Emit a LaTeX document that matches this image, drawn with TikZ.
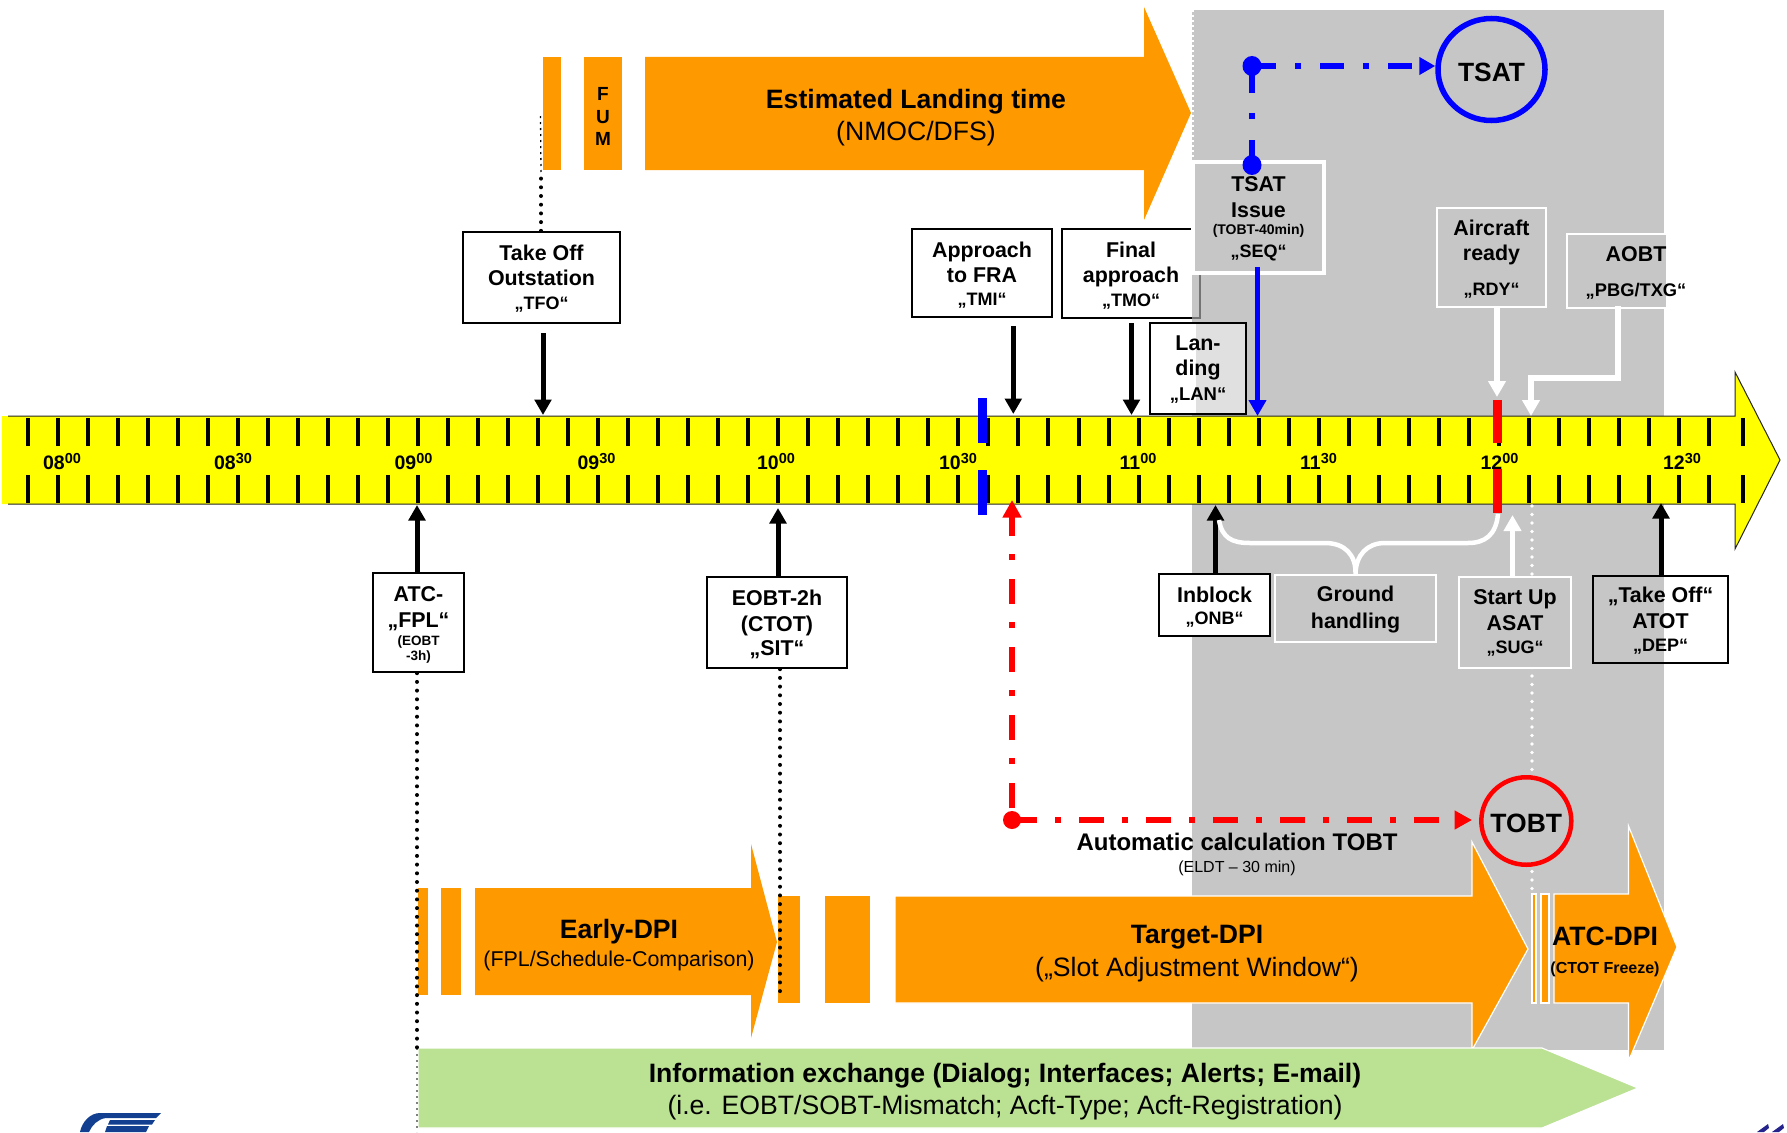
\documentclass[tikz,border=0pt]{standalone}
\usepackage{fontspec}
\setmainfont{Liberation Sans}
\usetikzlibrary{arrows.meta,shapes.geometric}
\definecolor{grayzone}{HTML}{C6C6C6}
\definecolor{orangeA}{HTML}{FF9900}
\definecolor{greenA}{HTML}{BBE193}
\definecolor{blueA}{HTML}{0000FF}
\definecolor{redA}{HTML}{FF0000}
\definecolor{barY}{HTML}{FFFF00}
\definecolor{logoB}{HTML}{123F8F}
\definecolor{logoC}{HTML}{24248C}
\newcommand\fsz[2]{\fontsize{#1}{#2}\selectfont}
\newcommand\bb{\fsz{21.4}{25}\bfseries}
\newcommand\qq{\fsz{18}{25}\bfseries}
\newcommand\dn[1]{\rule{0pt}{\dimexpr 15.3pt+2\dimexpr #1pt\relax\relax}}
\tikzset{
 x=1pt,y=-1pt,
 boxblack/.style={draw=black,line width=2.4pt,fill=white,align=center,inner sep=0pt,font=\bb},
 boxwhite/.style={draw=white,line width=2.4pt,fill=grayzone,align=center,inner sep=0pt,font=\bb},
 boxopen/.style={draw=black,line width=2.4pt,align=center,inner sep=0pt,font=\bb},
 orangebit/.style={fill=orangeA},
 orangeout/.style={fill=orangeA,draw=white,line width=1.2pt},
 tickmark/.style={line width=4pt,black},
 arrblack/.style={line width=5pt,black,-{Triangle[length=15.5pt,width=16.5pt]}},
 arrwhite/.style={line width=5.5pt,white,-{Triangle[length=16pt,width=17pt]}},
 arrblue/.style={line width=5.5pt,blueA,-{Triangle[length=16pt,width=17pt]}},
 dashedblue/.style={line width=6pt,blueA,-{Triangle[length=16pt,width=17pt]}},
 dashedred/.style={line width=6pt,redA,-{Triangle[length=17.5pt,width=18pt]}},
 dotline/.style={line width=4pt,black,line cap=round,dash pattern=on 0pt off 8.7pt},
 dotwhite/.style={line width=3.6pt,white,line cap=round,dash pattern=on 0pt off 8.5pt},
 timelabel/.style={font=\fsz{19.5}{22}\bfseries,inner sep=0pt,anchor=base},
 lab/.style={align=center,inner sep=0pt},
}
\newcommand\tl[2]{#1\raisebox{6pt}{\fsz{14.5}{14}\bfseries #2}}
\begin{document}
\begin{tikzpicture}
\useasboundingbox (0,0) rectangle (1787,1132);
% grey zone
\fill[grayzone] (1192,10) rectangle (1664,1050);
\draw[white,line width=2pt,dash pattern=on 2pt off 3pt] (1193,10) -- (1193,290);

% orange arrows, row 1
\fill[orangebit] (543,57) rectangle (561,170);
\node[orangebit,minimum width=38pt,minimum height=113pt,inner sep=0pt,align=center,font=\fsz{19}{22.5}\bfseries] (fum) at (603,113.5) {\rule{0pt}{19pt}F\\U\\M};
\fill[orangebit] (645,57) -- (1144,57) -- (1144,7) -- (1191,113) -- (1144,220) -- (1144,170) -- (645,170) -- cycle;
\node[lab,font=\fsz{26.6}{32}] (eld) at (916,118) {\textbf{Estimated Landing time}\\(NMOC/DFS)};

% orange arrows, row 2
\fill[orangebit] (418,888) rectangle (428,995);
\fill[orangebit] (441,888) rectangle (461,995);
\fill[orangebit] (475,888) -- (751,888) -- (751,844) -- (777,942) -- (751,1038) -- (751,995) -- (475,995) -- cycle;
\node[lab,font=\fsz{26.6}{30}] (early) at (619,945) {\textbf{Early-DPI}\\[-2.3pt]{\fsz{21.4}{30}(FPL/Schedule-Comparison)}};
\fill[orangebit] (778,896) rectangle (800,1003);
\fill[orangebit] (825,896) rectangle (870,1003);
\filldraw[orangeout] (895,896) -- (1472,896) -- (1472,842) -- (1528,949) -- (1472,1050) -- (1472,1003) -- (895,1003) -- cycle;
\node[lab,font=\fsz{26.6}{33}] (target) at (1197,954) {\textbf{Target-DPI}\\(„Slot Adjustment Window“)};
\fill[orangeout] (1532,894) rectangle (1536,1003);
\fill[orangeout] (1541,894) rectangle (1549,1003);
\filldraw[orangeout] (1554,894) -- (1628.5,894) -- (1628.5,826) -- (1677,947) -- (1628.5,1061) -- (1628.5,1003) -- (1554,1003) -- cycle;
\node[lab,font=\fsz{26.6}{32}] (atcdpi) at (1605,952) {\textbf{ATC-DPI}\\[-4.6pt]{\fsz{16}{20}\textbf{(CTOT Freeze)}}};

% green arrow
\filldraw[fill=greenA,draw=white,line width=1.2pt] (418,1048) -- (1542,1048) -- (1638,1088) -- (1542,1128) -- (418,1128) -- cycle;
\node[lab,font=\fsz{26.6}{32}] (info) at (1005,1091.3) {\textbf{Information exchange (Dialog; Interfaces; Alerts; E-mail)}\\(i.e. EOBT/SOBT-Mismatch; Acft-Type; Acft-Registration)};

% time bar
\fill[barY] (2,416) -- (1735,416) -- (1735,372) -- (1780,460) -- (1735,549) -- (1735,504) -- (2,504) -- cycle;
\draw[black!85,line width=1pt] (8,416) -- (1735,416) -- (1735,372) -- (1780,460) -- (1735,549) -- (1735,504) -- (8,504);
\foreach \i in {0,...,56}{
  \draw[tickmark] ({27.8+\i*30.02},418) -- ++(0,28);
  \draw[tickmark] ({27.8+\i*30.02},475) -- ++(0,28);
}
\draw[tickmark] (1742.7,418) -- ++(0,28);
\draw[tickmark] (1742.7,475) -- ++(0,28);
\node[timelabel] (t0800) at (62,469.3) {\tl{08}{00}};
\node[timelabel] (t0830) at (233,469.3) {\tl{08}{30}};
\node[timelabel] (t0900) at (413.5,469.3) {\tl{09}{00}};
\node[timelabel] (t0930) at (596.5,469.3) {\tl{09}{30}};
\node[timelabel] (t1000) at (776,469.3) {\tl{10}{00}};
\node[timelabel] (t1030) at (958,469.3) {\tl{10}{30}};
\node[timelabel] (t1100) at (1138,469.3) {\tl{11}{00}};
\node[timelabel] (t1130) at (1318.5,469.3) {\tl{11}{30}};
\node[timelabel] (t1200) at (1499.5,469.3) {\tl{12}{00}};
\node[timelabel] (t1230) at (1682,469.3) {\tl{12}{30}};
% markers
\fill[blueA] (978.3,398.3) rectangle (987.3,442.7);
\fill[blueA] (978.3,470) rectangle (987.3,515);
\fill[redA] (1492.7,400) rectangle (1502,443);
\fill[redA] (1492.7,469) rectangle (1502,512.7);

% named ends on the bar
\coordinate (eTFO) at (543,415);
\coordinate (eTMI) at (1013.3,414);
\coordinate (eTMO) at (1131.5,415);
\coordinate (eSEQ) at (1257.5,416);
\coordinate (eRDY) at (1497,397);
\coordinate (eAOBT) at (1531,416);
\coordinate (eATC) at (417,505);
\coordinate (eSIT) at (778,508);
\coordinate (eONB) at (1215.5,505);
\coordinate (eSUG) at (1512.5,515);
\coordinate (eDEP) at (1661,503);
\coordinate (eRED) at (1012,500);
\coordinate (dTFO) at (541,172);
\coordinate (dTFOb) at (540.5,115);
\coordinate (dATC) at (417,1048);
\coordinate (dATCb) at (417,1132);
\coordinate (dSIT) at (780,998);
\coordinate (wTop) at (1532,506);
\coordinate (wEnd) at (1532,893);

% dotted lines
\draw[dotwhite] (wTop) -- (wEnd);
\draw[black,line width=1.3pt,dash pattern=on 2pt off 4pt] (dTFO) -- (dTFOb);
\draw[black!50,line width=1.3pt,dash pattern=on 2pt off 4pt] (dATC) -- (dATCb);

% black boxes
\node[boxblack,minimum width=157pt,minimum height=91pt] (tfo) at (541.5,277.5) {\dn{1.2}Take Off\\Outstation\\[-1pt]{\qq „TFO“}};
\node[boxblack,minimum width=140pt,minimum height=88pt] (tmi) at (982,273) {\dn{2}Approach\\to FRA\\[-2.3pt]{\qq „TMI“}};
\node[boxblack,minimum width=138pt,minimum height=89pt] (tmo) at (1131,273.5) {\dn{2.2}Final\\approach\\[-1pt]{\qq „TMO“}};
\fill[grayzone] (1192,230) rectangle (1200,317);
\draw[black!55,line width=2.4pt] (1192,229) -- (1200,229) -- (1200,318) -- (1192,318);
\fill[white] (1150,323) rectangle (1196,414);
\fill[black!12] (1196,323) rectangle (1246,414);
\node[boxopen,minimum width=96pt,minimum height=91pt] (lan) at (1198,368.5) {\dn{0.7}Lan-\\ding\\{\fsz{18.5}{25}\bfseries „LAN“}};
\node[boxblack,minimum width=91pt,minimum height=99pt] (fpl) at (418.5,622.5) {\dn{2.4}ATC-\\[1pt]„FPL“\\[-7.5pt]{\fsz{13.5}{16}\bfseries (EOBT}\\[-9.3pt]{\fsz{13.5}{16}\bfseries -3h)}};
\node[boxblack,minimum width=140pt,minimum height=91pt] (sit) at (777,622.5) {\dn{2}EOBT-2h\\[1pt](CTOT)\\[-1pt]„SIT“};
\node[boxblack,minimum width=111pt,minimum height=62pt] (onb) at (1214.5,605) {\dn{2}Inblock\\[-3.4pt]{\qq „ONB“}};
\fill[white] (1664.5,578) rectangle (1727,662);
\fill[grayzone] (1594,577) rectangle (1664,662);
\node[boxopen,minimum width=135pt,minimum height=87pt] (dep) at (1660.5,619.5) {\dn{1.2}„Take Off“\\[1.1pt]ATOT\\[-2.3pt]{\qq „DEP“}};

% white boxes
\node[draw=white,line width=4pt,fill=grayzone,align=center,inner sep=0pt,font=\bb,minimum width=131pt,minimum height=111pt] (seq) at (1258.5,217.5) {\dn{1.2}TSAT\\[1pt]Issue\\[-8.4pt]{\fsz{14}{16}(TOBT-40min)}\\[-2pt]{\qq „SEQ“}};
\node[boxwhite,minimum width=109pt,minimum height=99pt] (rdy) at (1491.5,257.5) {\dn{1.8}Aircraft\\ready\\[9.3pt]{\qq „RDY“}};
\node[boxwhite,minimum width=136pt,minimum height=74pt] (aobt) at (1635,271) {};
\fill[white] (1665.5,233) rectangle (1705,310);
\node[lab,font=\bb] (aobttxt) at (1636,273) {AOBT\\[9.3pt]{\fsz{18.3}{25}\bfseries „PBG/TXG“}};
\node[boxwhite,minimum width=161pt,minimum height=67pt] (gh) at (1355.5,608.5) {\dn{1.2}Ground\\[1.2pt]handling};
\node[boxwhite,minimum width=112pt,minimum height=91pt] (sug) at (1515,622.5) {\dn{0.3}Start Up\\[1.2pt]ASAT\\[-2.3pt]{\qq „SUG“}};

% circles
\node[ellipse,draw=blueA,line width=5.5pt,minimum width=107pt,minimum height=102pt,inner sep=0pt,font=\fsz{26.4}{30}\bfseries] (tsat) at (1491.5,69.5) {\rule{0pt}{24pt}TSAT};
\node[ellipse,draw=redA,line width=4.5pt,fill=grayzone,minimum width=90pt,minimum height=87.5pt,inner sep=0pt,font=\fsz{26.5}{30}\bfseries] (tobt) at (1526.3,821) {\rule{0pt}{24pt}\makebox[0pt]{TOBT}};

% labels
\node[lab,font=\fsz{24}{26}] (auto) at (1237,854.2) {\textbf{Automatic calculation TOBT}\\[-4.5pt]{\fsz{16}{21}(ELDT – 30 min)}};

% connector dots
\coordinate (bStart) at (1252,66);
\coordinate (bIssue) at (1252,165);
\coordinate (rStart) at (1012,820);

% black arrows
\draw[arrblack,shorten <=9pt] (tfo.south -| eTFO) -- (eTFO);
\draw[arrblack,shorten <=8pt] (tmi.south -| eTMI) -- (eTMI);
\draw[arrblack,shorten <=4pt] (tmo.south -| eTMO) -- (eTMO);
\draw[arrblack] (fpl.north -| eATC) -- (eATC);
\draw[arrblack] (sit.north -| eSIT) -- (eSIT);
\draw[arrblack] (onb.north -| eONB) -- (eONB);
\draw[arrblack] (dep.north -| eDEP) -- (eDEP);
\draw[dotline] (tfo.north -| dTFO) -- (dTFO);
\draw[dotline] (fpl.south -| dATC) -- (dATC);
\draw[dotline] (sit.south -| dSIT) -- (dSIT);

% white arrows
\draw[arrwhite] (rdy.south -| eRDY) -- (eRDY);
\draw[arrwhite] (sug.north -| eSUG) -- (eSUG);
\draw[arrwhite] (1618,306) -- (1618,378) -- (eAOBT |- 0,378) -- (eAOBT);
% brace
\draw[white,line width=4.5pt] (1219,520) .. controls (1222,538) and (1232,543) .. (1250,543) -- (1325,543) .. controls (1345,543) and (1356,555) .. (gh.north) .. controls (1356,555) and (1367,543) .. (1385,543) -- (1468,543) .. controls (1485,543) and (1496,535) .. (1498,514);

% blue connectors
\draw[arrblue,shorten <=-8pt] (seq.south -| eSEQ) -- (eSEQ);
\fill[blueA] (bStart) ellipse [x radius=9.5,y radius=10];
\fill[blueA] (bIssue) ellipse [x radius=9.5,y radius=10];
\draw[blueA,line width=6pt,dash pattern=on 27pt off 20pt on 6pt off 21pt] (bStart) -- (bIssue);
\draw[dashedblue,dash pattern=on 24pt off 19pt on 6pt off 19pt] (bStart) -- (tsat.west |- bStart);

% red connectors
\fill[redA] (rStart) circle [radius=9];
\draw[dashedred,dash pattern=on 25pt off 19pt on 6pt off 18pt,dash phase=56pt] (rStart) -- (eRED);
\draw[dashedred,dash pattern=on 25pt off 18pt on 6pt off 18pt,shorten >=7pt] (rStart) -- (tobt.west |- rStart);

% logos cropped at the lower edge
\fill[logoB] (80,1132) .. controls (82,1122) and (90,1113) .. (100,1113) -- (161,1113) -- (156,1118) -- (106,1118) .. controls (98,1119) and (92,1125) .. (89,1132) -- cycle;
\fill[logoB] (110,1120) -- (155,1120) -- (152,1124.5) -- (108,1124.5) -- cycle;
\fill[logoB] (107,1126) -- (149,1126) -- (146,1132) -- (105,1132) -- cycle;
\fill[logoC] (1757,1132) -- (1768,1124) -- (1769,1128) -- (1764,1132) -- cycle;
\fill[logoC] (1772,1132) -- (1783,1124) -- (1784,1128) -- (1779,1132) -- cycle;
\end{tikzpicture}
\end{document}
